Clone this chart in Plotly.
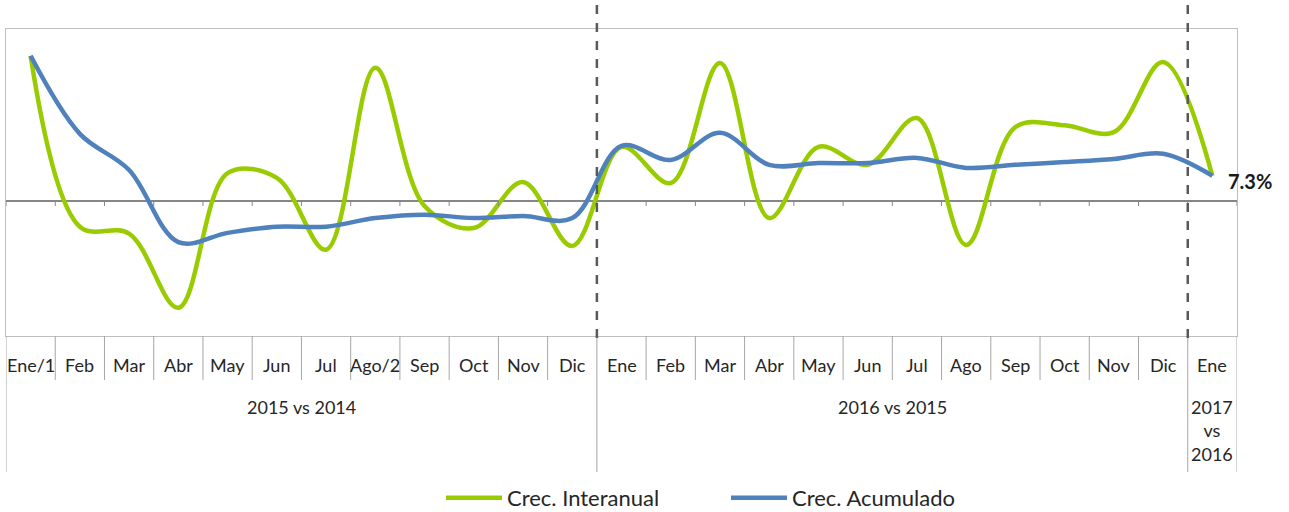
import plotly.graph_objects as go

months = ["Ene/1", "Feb", "Mar", "Abr", "May", "Jun", "Jul", "Ago/2", "Sep", "Oct", "Nov", "Dic",
          "Ene", "Feb", "Mar", "Abr", "May", "Jun", "Jul", "Ago", "Sep", "Oct", "Nov", "Dic",
          "Ene"]
groups = ["2015 vs 2014", "2016 vs 2015", "2017<br>vs<br>2016"]
group_sizes = [12, 12, 1]

interanual = [42.2, -7.5, -9.5, -31.1, 8.1, 6.7, -14.2, 38.7, -1.5, -7.9, 5.5, -13.1,
              15.7, 5.2, 40.1, -5.0, 15.7, 10.5, 24.1, -12.8, 21.5, 22.0, 20.0, 40.4,
              7.3]
acumulado = [42.2, 19.5, 9.0, -12.0, -9.3, -7.5, -7.5, -5.0, -4.0, -5.0, -4.4, -5.0,
             16.0, 11.9, 19.8, 10.5, 11.0, 11.0, 12.5, 9.6, 10.5, 11.3, 12.2, 13.7,
             7.3]
last_label = "7.3%"

x = list(range(len(months)))
W, H = 1289, 512
L, R, T, B = 6, 52, 29, 176
ph = H - T - B
pw = W - L - R
px = lambda p: p / ph  # pixels -> paper units (vertical)
FONT = "Lato"
TXT = "#262626"

fig = go.Figure()
fig.add_trace(go.Scatter(x=x, y=interanual, mode="lines", name="Crec. Interanual",
                         line=dict(color="#99CC00", width=4.5, shape="spline", smoothing=1.0)))
fig.add_trace(go.Scatter(x=x, y=acumulado, mode="lines", name="Crec. Acumulado",
                         line=dict(color="#4F81BD", width=4.5, shape="spline", smoothing=1.0)))

shapes = []
# zero line ticks
for i in range(len(months) + 1):
    shapes.append(dict(type="line", xref="x", yref="y", x0=i - 0.5, x1=i - 0.5, y0=0, y1=-1.5,
                       line=dict(color="#868686", width=1)))
# category separators
bounds = [0]
for s in group_sizes:
    bounds.append(bounds[-1] + s)
for i in range(len(months) + 1):
    full = i in bounds
    shapes.append(dict(type="line", xref="x", yref="paper", x0=i - 0.5, x1=i - 0.5,
                       y0=0, y1=-px(136) if full else -px(44),
                       line=dict(color="#A6A6A6", width=1)))
# dashed dividers
for b in bounds[1:-1]:
    shapes.append(dict(type="line", xref="x", yref="paper", x0=b - 0.5, x1=b - 0.5,
                       y0=1 + px(24), y1=-px(10),
                       line=dict(color="#595959", width=2.5, dash="dash")))

annotations = []
for i, m in enumerate(months):
    annotations.append(dict(x=i, y=-px(29), xref="x", yref="paper", text=m, showarrow=False,
                            font=dict(size=18, color=TXT, family=FONT),
                            xanchor="center", yanchor="middle"))
for g, s, b in zip(groups, group_sizes, bounds):
    c = b + (s - 1) / 2
    multi = "<br>" in g
    annotations.append(dict(x=c, y=-px(71) if not multi else -px(58), xref="x", yref="paper",
                            text=g, showarrow=False,
                            font=dict(size=18, color=TXT, family=FONT),
                            xanchor="center", yanchor="top" if multi else "middle"))
annotations.append(dict(x=x[-1], y=interanual[-1], xref="x", yref="y", text="<b>" + last_label + "</b>",
                        showarrow=False, xanchor="left", yanchor="middle", xshift=14, yshift=-5,
                        font=dict(size=20, color="#1a1a1a", family=FONT)))

fig.update_layout(
    width=W, height=H, margin=dict(l=L, r=R, t=T, b=B),
    paper_bgcolor="white", plot_bgcolor="white",
    xaxis=dict(range=[-0.5, len(months) - 0.5], showgrid=False, showticklabels=False, zeroline=False,
               showline=True, mirror=True, linecolor="#BFBFBF", linewidth=1, ticks=""),
    yaxis=dict(range=[-39.3, 50], showgrid=False, showticklabels=False, zeroline=True,
               zerolinecolor="#868686", zerolinewidth=1.5,
               showline=True, mirror=True, linecolor="#BFBFBF", linewidth=1, ticks=""),
    shapes=shapes, annotations=annotations,
    showlegend=True,
    legend=dict(orientation="h", xref="container", yref="container",
                x=441 / W, xanchor="left", y=1 - 498 / H, yanchor="middle",
                font=dict(size=22, color=TXT, family=FONT), itemwidth=56,
                entrywidth=214, entrywidthmode="pixels", bgcolor="rgba(0,0,0,0)"),
    font=dict(family=FONT),
)
fig.write_html("out.html", config={"displayModeBar": False},
               post_script="document.body.style.margin='0';document.body.style.overflow='hidden';")
